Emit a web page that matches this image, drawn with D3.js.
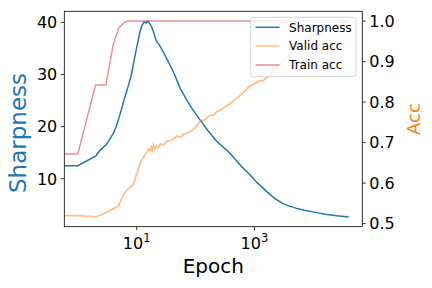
<!DOCTYPE html>
<html>
<head>
<meta charset="utf-8">
<script src="https://cdn.jsdelivr.net/npm/d3@7"></script>
<style>
  body { margin: 0; background: #fff; }
  svg { font-family: "DejaVu Sans", sans-serif; }
</style>
</head>
<body>
<svg width="432" height="288"></svg>
<script>
// data (epoch 0 is clipped to the left edge like matplotlib does)
var sharpEpochs = [0, 1, 2.03, 2.4, 3.1, 4.05, 4.6, 5.25, 6.1, 8.0, 9.7, 11.4, 12.5, 13.4, 14.3, 15.2, 16.2, 17.8, 19.5, 21.2, 24.5, 29.2, 35, 43.2, 55, 71, 90, 119, 160, 228, 300, 384, 500, 620, 816, 1100, 1400, 1783, 2300, 3006, 3900, 5050, 7000, 11000, 16000, 25000, 40000];
var sharpness   = [12.5, 12.5, 14.4, 15.5, 16.65, 18.8, 20.4, 22.5, 25.1, 29.6, 34.5, 38.3, 39.6, 40.1, 39.9, 40.25, 40.0, 39.2, 38.0, 36.6, 35.6, 34.0, 32.3, 30.2, 27.3, 25.1, 23.2, 21.3, 19.3, 17.2, 16.0, 14.9, 13.4, 12.2, 10.9, 9.3, 8.2, 7.1, 6.1, 5.27, 4.75, 4.37, 3.95, 3.55, 3.2, 2.92, 2.68];

var validEpochs = [0, 1, 2.03, 2.4, 3.3, 4.9, 6.0, 6.4, 7.5, 8.8, 10.3, 11.2, 12.3, 13.9, 15.0, 15.8, 16.9, 17.6, 18.3, 19.3, 20.2, 21.5, 23.4, 25.5, 28.5, 32.5, 40, 48, 55, 63, 71, 85, 100, 119, 140, 170, 200, 228, 270, 320, 384, 480, 600, 830, 1000, 1200, 1400, 1600, 1800, 2090, 2500, 3060, 4000, 5200, 7000, 10000, 14000, 19000, 27000, 40000];
var validAcc    = [0.5195, 0.5195, 0.5165, 0.5206, 0.530, 0.544, 0.573, 0.578, 0.588, 0.598, 0.628, 0.645, 0.657, 0.670, 0.676, 0.684, 0.679, 0.689, 0.681, 0.694, 0.684, 0.692, 0.688, 0.697, 0.694, 0.703, 0.707, 0.716, 0.713, 0.721, 0.723, 0.729, 0.738, 0.752, 0.756, 0.766, 0.768, 0.776, 0.781, 0.789, 0.796, 0.808, 0.819, 0.839, 0.845, 0.851, 0.853, 0.860, 0.866, 0.877, 0.888, 0.901, 0.918, 0.935, 0.950, 0.963, 0.973, 0.984, 0.993, 1.0];

var trainEpochs = [0, 1, 2, 3, 4, 5, 6, 7, 40000];
var trainAcc    = [0.672, 0.672, 0.842, 0.842, 0.943, 0.984, 0.995, 1.0, 1.0];

var xTicks = [10, 1000];
var sharpTicks = [10, 20, 30, 40];
var accTicks = [0.5, 0.6, 0.7, 0.8, 0.9, 1.0];
var legendNames = ["Sharpness", "Valid acc", "Train acc"];

var svg = d3.select("svg"),
	L = 64.3, R = 362.3, T = 11.3, B = 226.7;

// matplotlib-like 5% margins
function pad(lo, hi) { var m = (hi - lo) * 0.05; return [lo - m, hi + m]; }
var lx = pad(Math.log10(1), Math.log10(d3.max(sharpEpochs)));
var x = d3.scaleLog().domain([Math.pow(10, lx[0]), Math.pow(10, lx[1])]).range([L, R]);
var yS = d3.scaleLinear().domain(pad(d3.min(sharpness), d3.max(sharpness))).range([B, T]);
var yA = d3.scaleLinear().domain(pad(d3.min(validAcc.concat(trainAcc)), d3.max(validAcc.concat(trainAcc)))).range([B, T]);

var blue = "#1f77b4", orange = "#ff7f0e", red = "#d62728";

svg.append("clipPath").attr("id", "clip")
	.append("rect").attr("x", L).attr("y", T).attr("width", R - L).attr("height", B - T);

function xe(e) { return x(Math.max(e, x.domain()[0])); }
function series(ep, vals) { return ep.map(function(e, i) { return [e, vals[i]]; }); }

var lineS = d3.line().x(function(d) { return xe(d[0]); }).y(function(d) { return yS(d[1]); });
var lineA = d3.line().x(function(d) { return xe(d[0]); }).y(function(d) { return yA(d[1]); });

var plot = svg.append("g").attr("clip-path", "url(#clip)");
plot.append("path").datum(series(sharpEpochs, sharpness))
	.attr("d", lineS).attr("fill", "none").attr("stroke", blue).attr("stroke-width", 1.5);
plot.append("path").datum(series(validEpochs, validAcc))
	.attr("d", lineA).attr("fill", "none").attr("stroke", orange).attr("stroke-opacity", 0.5).attr("stroke-width", 1.8);
plot.append("path").datum(series(trainEpochs, trainAcc))
	.attr("d", lineA).attr("fill", "none").attr("stroke", red).attr("stroke-opacity", 0.5).attr("stroke-width", 1.5);

// frame
svg.append("rect").attr("x", L).attr("y", T).attr("width", R - L).attr("height", B - T)
	.attr("fill", "none").attr("stroke", "#000").attr("stroke-width", 0.8);

// x ticks
var xt = svg.append("g");
xTicks.forEach(function(t) {
	var px = x(t);
	xt.append("line").attr("x1", px).attr("x2", px).attr("y1", B).attr("y2", B + 3.5).attr("stroke", "#000").attr("stroke-width", 0.8);
	var tx = xt.append("text").attr("x", px).attr("y", B + 22.6).attr("text-anchor", "middle").attr("font-size", 16);
	tx.append("tspan").text("10");
	tx.append("tspan").attr("dy", -7.5).attr("font-size", 11.5).text(String(Math.round(Math.log10(t))));
});

// left ticks
sharpTicks.forEach(function(t) {
	var py = yS(t);
	svg.append("line").attr("x1", L - 3.5).attr("x2", L).attr("y1", py).attr("y2", py).attr("stroke", "#000").attr("stroke-width", 0.8);
	svg.append("text").attr("x", L - 7).attr("y", py + 5.8).attr("text-anchor", "end").attr("font-size", 16).text(t);
});

// right ticks
accTicks.forEach(function(t) {
	var py = yA(t);
	svg.append("line").attr("x1", R).attr("x2", R + 3.5).attr("y1", py).attr("y2", py).attr("stroke", "#000").attr("stroke-width", 0.8);
	svg.append("text").attr("x", R + 7).attr("y", py + 5.8).attr("font-size", 16).text(t.toFixed(1));
});

// axis labels
svg.append("text").attr("x", (L + R) / 2).attr("y", 273.3).attr("text-anchor", "middle").attr("font-size", 20).text("Epoch");
svg.append("text").attr("transform", "translate(26,133) rotate(-90)")
	.attr("text-anchor", "middle").attr("font-size", 23).attr("fill", blue).text("Sharpness");
svg.append("text").attr("transform", "translate(420," + ((T + B) / 2) + ") rotate(-90)")
	.attr("text-anchor", "middle").attr("font-size", 18).attr("fill", orange).text("Acc");

// legend
var lg = svg.append("g").attr("transform", "translate(250.7,17.3)");
lg.append("rect").attr("width", 105.3).attr("height", 59.4).attr("rx", 2.5)
	.attr("fill", "#fff").attr("fill-opacity", 0.8).attr("stroke", "#cccccc").attr("stroke-width", 0.8);
var lgStyle = [[blue, 1], [orange, 0.5], [red, 0.5]];
legendNames.forEach(function(n, i) {
	var cy = 10 + i * 18.8;
	lg.append("line").attr("x1", 4.8).attr("x2", 28.8).attr("y1", cy).attr("y2", cy)
		.attr("stroke", lgStyle[i][0]).attr("stroke-opacity", lgStyle[i][1]).attr("stroke-width", 1.5);
	lg.append("text").attr("x", 38.4).attr("y", cy + 4.4).attr("font-size", 12).text(n);
});
</script>
</body>
</html>
